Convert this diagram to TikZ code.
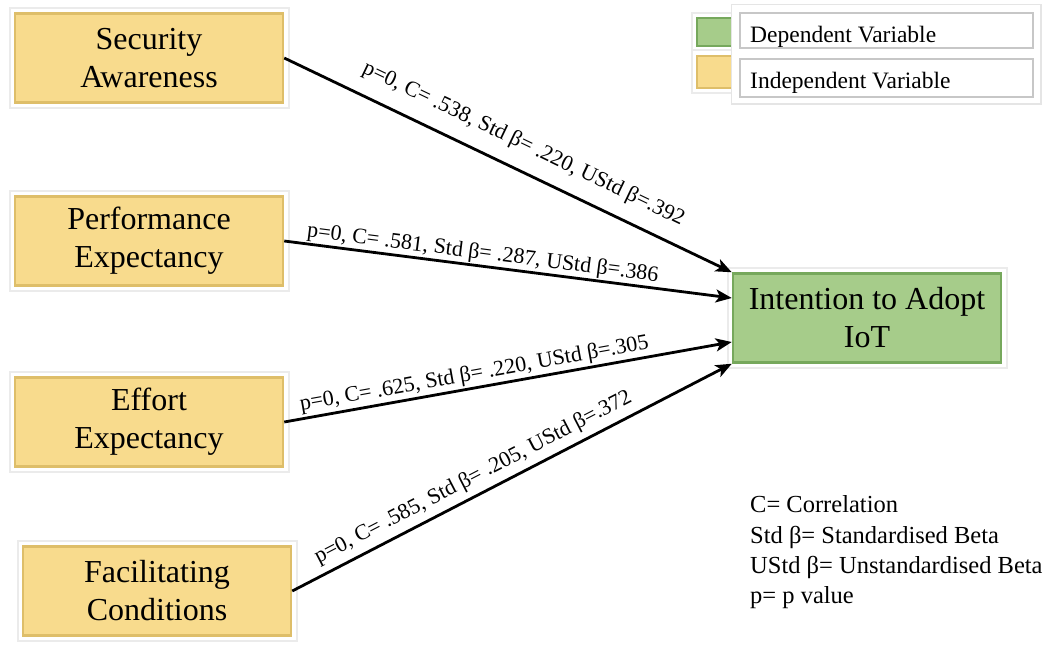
\documentclass[tikz,border=0pt]{standalone}
\usepackage{fontspec}
\setmainfont{Liberation Serif}
\usetikzlibrary{arrows.meta}
\definecolor{ylw}{RGB}{248,219,141}
\definecolor{ylwedge}{RGB}{222,190,105}
\definecolor{grn}{RGB}{166,204,138}
\definecolor{grnedge}{RGB}{118,168,92}
\tikzset{
 framed/.style={preaction={draw=black!8, line width=13pt}, preaction={draw=white, line width=9pt}},
 varbox/.style={framed, rectangle, inner sep=0pt, minimum width=268pt, minimum height=89pt, line width=2.5pt, align=center, font=\fontsize{32}{38}\selectfont},
 indep/.style={varbox, fill=ylw, draw=ylwedge},
 dep/.style={varbox, fill=grn, draw=grnedge},
 link/.style={line width=2.8pt, -{Stealth[length=16pt,width=13pt,inset=4pt]}},
 lbl/.style={sloped, above, font=\fontsize{22}{24}\selectfont},
 keybox/.style={framed, rectangle, inner sep=0pt, minimum width=60pt, line width=2pt},
 rowbox/.style={rectangle, draw=black!22, line width=2pt, fill=white, inner sep=0pt, minimum width=293pt, minimum height=35pt},
 keytext/.style={anchor=base west, inner sep=0pt, font=\fontsize{23.5}{26}\selectfont},
 notetext/.style={anchor=base west, inner sep=0pt, font=\fontsize{24.5}{28}\selectfont},
}
\begin{document}
\begin{tikzpicture}[x=1pt,y=-1pt]
\useasboundingbox (0,0) rectangle (1060,645);
% variables
\node[indep] (sa) at (149,58) {Security\\Awareness};
\node[indep] (pe) at (149,241) {Performance\\Expectancy};
\node[indep] (ee) at (149,422) {Effort\\Expectancy};
\node[indep] (fc) at (157,591) {Facilitating\\Conditions};
\node[dep] (ita) at (867,318) {Intention to Adopt\\IoT};
% links
\draw[link] (sa.east) -- node[lbl, pos=.51, inner sep=14pt] {p=0, C= .538, Std β= .220, UStd β=.392} (ita.north west);
\draw[link] (pe.east) -- node[lbl, pos=.44, inner sep=1pt] {p=0, C= .581, Std β= .287, UStd β=.386} ([yshift=20pt]ita.west);
\draw[link] (ee.east) -- node[lbl, pos=.43, inner sep=2pt] {p=0, C= .625, Std β= .220, UStd β=.305} ([yshift=-24pt]ita.west);
\draw[link] (fc.east) -- node[lbl, pos=.43, inner sep=6pt] {p=0, C= .585, Std β= .205, UStd β=.372} (ita.south west);
% key
\node[keybox, fill=grn, draw=grnedge, minimum height=28pt] (kg) at (727,32) {};
\node[keybox, fill=ylw, draw=ylwedge, minimum height=32pt] (ky) at (727,71.5) {};
\node[rectangle, fill=white, preaction={draw=black!10, line width=3pt}, inner sep=0pt, minimum width=308pt, minimum height=98pt] (panel) at (886,54) {};
\node[rowbox] (dv) at (886,30.5) {};
\node[rowbox, minimum height=38pt] (iv) at (886,78) {};
\node[keytext] (dvt) at (750,42) {Dependent Variable};
\node[keytext] (ivt) at (750,88) {Independent Variable};
% notes
\node[notetext] (n1) at (750,512) {C= Correlation};
\node[notetext] (n2) at (750,543) {Std β= Standardised Beta};
\node[notetext] (n3) at (750,573) {UStd β= Unstandardised Beta};
\node[notetext] (n4) at (750,603) {p= p value};
\end{tikzpicture}
\end{document}
